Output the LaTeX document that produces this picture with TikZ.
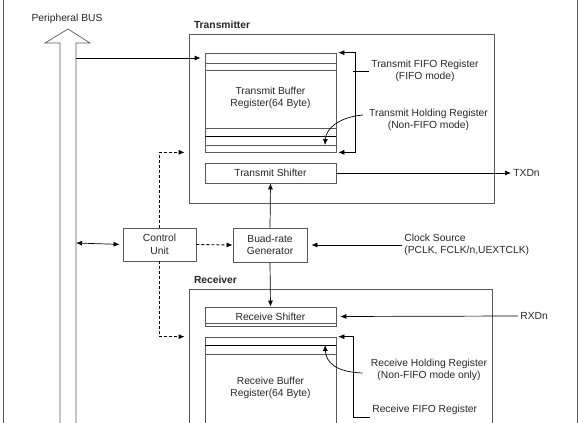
\documentclass[tikz,border=0pt]{standalone}
\usepackage{fontspec}
\setmainfont{Liberation Sans}
\usetikzlibrary{arrows.meta}
\begin{document}
\begin{tikzpicture}[x=1pt, y=-1pt, line width=0.7pt, >={Latex[length=6pt,width=5pt]},
    every node/.style={font=\fontsize{10.3}{12.5}\selectfont, text=black!85},
    box/.style={draw=black!65, inner sep=0pt},
    reg/.style={box, minimum width=131pt},
    lbl/.style={align=center, inner sep=2pt},
    head/.style={anchor=base west, inner sep=0pt, font=\fontsize{10.3}{12.5}\selectfont\bfseries},
    ctl/.style={dash pattern=on 3pt off 2pt, line width=0.9pt}]
      \useasboundingbox (0,0) rectangle (579,423);
      \clip (0,0) rectangle (579,423);
      \draw[black!65] (3,0) -- (3,423) (577,0) -- (577,423);
      \draw[black!65] (60,423) -- (60,43) -- (45,43) -- (68,29) -- (90,43) -- (76,43) -- (76,423);
      \node (bus) at (67,19) {Peripheral BUS};
      \coordinate (bustx) at (76,58);
      \coordinate (buscu) at (76,243);
      \node[box, minimum width=305pt, minimum height=169pt] (tx) at (341.5,118.5) {};
      \node[head] at ([shift={(5,-5)}]tx.north west) {Transmitter};
      \node[reg, minimum height=99pt] (txbuf) at (270.5,102.5) {};
      \foreach \y in {63, 70, 128, 145}
        \draw[black!65] (205,\y) -- (336,\y);
      \draw (205,136) -- (336,136);
      \node[lbl] (txbuftext) at (270.5,98) {Transmit Buffer\\Register(64 Byte)};
      \node[reg, minimum height=20pt] (txsh) at (270.5,173) {Transmit Shifter};
      \draw[->, shorten >=4pt] (bustx) -- (bustx -| txbuf.west);
      \draw[<->] ([xshift=2pt]txbuf.north east) -- ++(17,0) |- ([xshift=2pt]txbuf.south east);
      \node[lbl] (txfifo) at (425,71) {Transmit FIFO Register\\(FIFO mode)};
      \draw (txfifo.west) -- ++(-16,0);
      \node[lbl] (txhold) at (428.5,120) {Transmit Holding Register\\(Non-FIFO mode)};
      \coordinate (txholdpt) at (325,145);
      \draw[->] ([shift={(-4,-5)}]txhold.west) .. controls (340,117) and (326,128) .. (txholdpt);
      \node[anchor=west, inner sep=2pt] (txd) at (511,173) {TXDn};
      \draw[->] (txsh.east) -- (txd.west);
      \node[box, minimum width=73pt, minimum height=33pt, align=center] (cu) at (159.5,244.5) {Control\\Unit};
      \node[box, minimum width=74pt, minimum height=34pt, align=center] (brg) at (270,245) {Buad-rate\\Generator};
      \node[lbl, anchor=west, align=left] (clk) at (402,245) {Clock Source\\(PCLK, FCLK/n,UEXTCLK)};
      \node[box, minimum width=303pt, minimum height=160pt] (rx) at (340.5,369) {};
      \node[head] at ([shift={(5,-5)}]rx.north west) {Receiver};
      \node[reg, minimum height=19pt] (rxsh) at (270.5,316.5) {Receive Shifter};
      \draw[black!65] (205,323) -- (336,323);
      \node[reg, minimum height=100pt] (rxbuf) at (270.5,387) {};
      \draw (205,345) -- (336,345);
      \draw[black!65] (205,354) -- (336,354);
      \node[lbl] (rxbuftext) at (270.5,388) {Receive Buffer\\Register(64 Byte)};
      \draw[<->, shorten >=3pt] (buscu) -- (cu.west);
      \draw[->, ctl] (cu.east) -- (brg.west);
      \draw[->, ctl, shorten >=4pt] (cu.north) |- (tx.west |- txbuf.south);
      \draw[->, ctl, shorten >=4pt] (cu.south) |- (rx.west |- rxbuf.north);
      \draw[->, shorten >=4pt] (clk.west) -- (brg.east);
      \draw[->] (brg.north) -- (txsh.south);
      \draw[->] (brg.south) -- (rxsh.north);
      \node[anchor=west, inner sep=2pt] (rxd) at (518,316) {RXDn};
      \draw[->, shorten >=4pt] (rxd.west) -- (rxsh.east);
      \node[lbl] (rxfifo) at (424.7,410) {Receive FIFO Register};
      \draw[<-] ([xshift=2pt]rxbuf.north east) -| ([xshift=-17pt]rxfifo.south west) -- (rxfifo.south west);
      \node[lbl] (rxhold) at (429,370) {Receive Holding Register\\(Non-FIFO mode only)};
      \coordinate (rxholdpt) at (325,345);
      \draw[->] ([shift={(-6,3)}]rxhold.west) .. controls (335,372) and (326,362) .. (rxholdpt);
    \end{tikzpicture}
\end{document}
